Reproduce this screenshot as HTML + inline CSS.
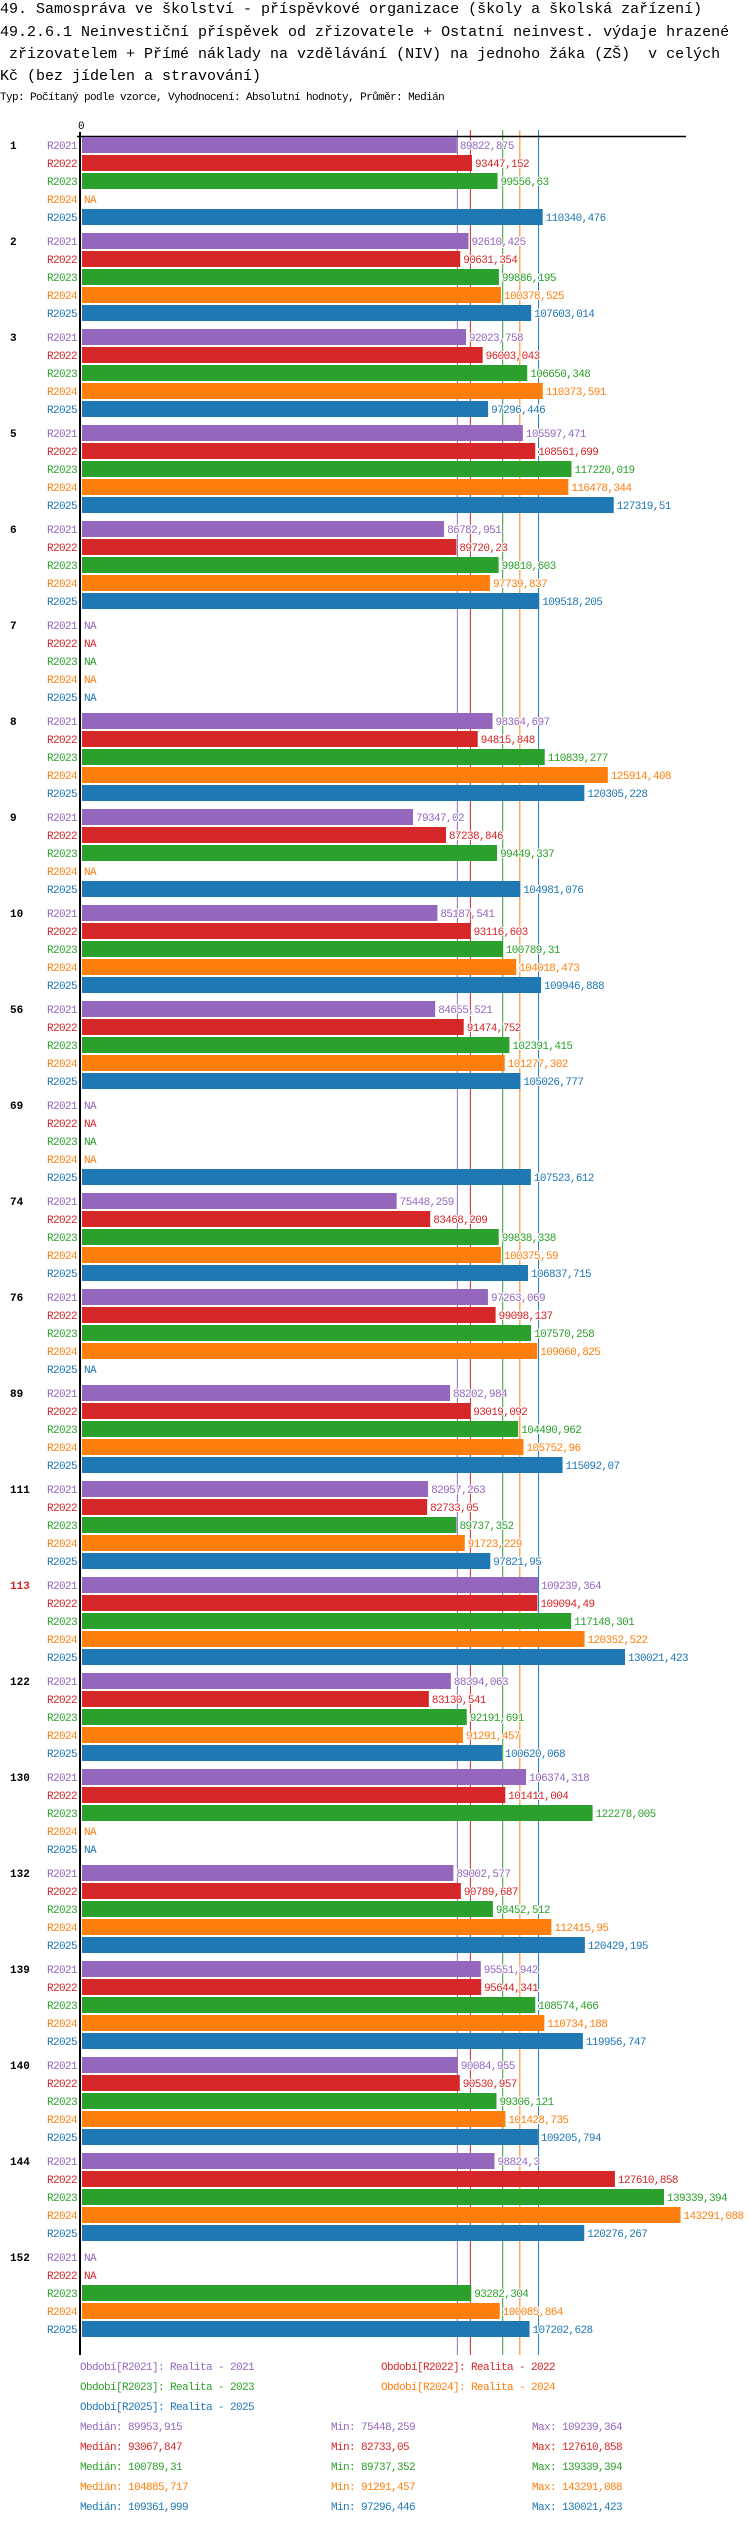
<!DOCTYPE html>
<html><head><meta charset="utf-8">
<style>
html,body{margin:0;padding:0;background:#fff;}
svg text{font-family:"Liberation Mono","DejaVu Sans Mono",monospace;}
</style></head>
<body>
<svg id="chart" width="750" height="2524" xmlns="http://www.w3.org/2000/svg">
<g font-size="15" fill="#000">
<text x="0" y="13">49. Samospráva ve školství - příspěvkové organizace (školy a školská zařízení)</text>
<text x="0" y="36">49.2.6.1 Neinvestiční příspěvek od zřizovatele + Ostatní neinvest. výdaje hrazené</text>
<text x="0" y="58" xml:space="preserve"> zřizovatelem + Přímé náklady na vzdělávání (NIV) na jednoho žáka (ZŠ)  v celých</text>
<text x="0" y="80">Kč (bez jídelen a stravování)</text>
</g>
<text x="0" y="100" font-size="11" letter-spacing="-0.6">Typ: Počítaný podle vzorce, Vyhodnocení: Absolutní hodnoty, Průměr: Medián</text>
<text x="78" y="129" font-size="11">0</text>
<g id="plot"></g>
<g id="legend"></g>
</svg>
<script>
const groups = ["1","2","3","5","6","7","8","9","10","56","69","74","76","89","111","113","122","130","132","139","140","144","152"];
const periods = ["R2021","R2022","R2023","R2024","R2025"];
const colors = ["#9467bd","#d62728","#2ca02c","#ff7f0e","#1f77b4"];
const v2021 = [89822.875,92610.425,92023.758,105597.471,86782.951,null,98364.697,79347.02,85187.541,84655.521,null,75448.259,97263.069,88202.984,82957.263,109239.364,88394.063,106374.318,89002.577,95551.942,90084.955,98824.3,null];
const v2022 = [93447.152,90631.354,96003.043,108561.699,89720.23,null,94815.848,87238.846,93116.603,91474.752,null,83468.209,99098.137,93019.092,82733.05,109094.49,83130.541,101411.004,90789.687,95644.341,90530.957,127610.858,null];
const v2023 = [99556.63,99886.195,106650.348,117220.019,99810.603,null,110839.277,99449.337,100789.31,102391.415,null,99838.338,107570.258,104490.962,89737.352,117148.301,92191.691,122278.005,98452.512,108574.466,99306.121,139339.394,93282.304];
const v2024 = [null,100378.525,110373.591,116478.344,97739.837,null,125914.408,null,104018.473,101277.302,null,100375.59,109060.825,105752.96,91723.229,120352.522,91291.457,null,112415.95,110734.188,101428.735,143291.088,100085.864];
const v2025 = [110340.476,107603.014,97296.446,127319.51,109518.205,null,120305.228,104981.076,109946.888,105026.777,107523.612,106837.715,null,115092.07,97821.95,130021.423,100620.068,null,120429.195,119956.747,109205.794,120276.267,107202.628];
const medians = [89953.915,93067.847,100789.31,104885.717,109361.999];
const mins = [75448.259,82733.05,89737.352,91291.457,97296.446];
const maxs = [109239.364,127610.858,139339.394,143291.088,130021.423];
const legendLabels = ["Období[R2021]: Realita - 2021","Období[R2022]: Realita - 2022","Období[R2023]: Realita - 2023","Období[R2024]: Realita - 2024","Období[R2025]: Realita - 2025"];
const highlightGroup = "113";

const series = [v2021,v2022,v2023,v2024,v2025];
const NS = "http://www.w3.org/2000/svg";
const X0 = 81, K = 0.004184;
const xScale = v => X0 + v * K;
const TOP = 137, GROUP_H = 96, ROW_H = 18, BAR_H = 16;
const yRow = (g, r) => TOP + g * GROUP_H + r * ROW_H;
const fmt = v => String(v).replace('.', ',');
const plot = document.getElementById('plot');
const bottom = yRow(groups.length - 1, 4) + BAR_H + 18;

function mk(tag, attrs, parent){
  const e = document.createElementNS(NS, tag);
  for (const k in attrs) e.setAttribute(k, attrs[k]);
  parent.appendChild(e);
  return e;
}

// median lines
medians.forEach((m, i) => {
  const l = mk('line', {x1: xScale(m), x2: xScale(m), y1: 130, y2: bottom, stroke: colors[i], 'stroke-width': 1}, plot);
  
  
});
// axes
const ax = mk('line', {x1: 77, x2: 686, y1: 136.5, y2: 136.5, stroke: '#000', 'stroke-width': 1.5}, plot);


const ay = mk('line', {x1: 80, x2: 80, y1: 132, y2: bottom, stroke: '#000', 'stroke-width': 2}, plot);



groups.forEach((g, gi) => {
  const gl = mk('text', {x: 10, y: yRow(gi, 0) + 12, 'font-size': 11, 'font-weight': 'bold', fill: g === highlightGroup ? '#d62728' : '#000'}, plot);
  gl.textContent = g;
  
  
  periods.forEach((p, pi) => {
    const y = yRow(gi, pi);
    const v = series[pi][gi];
    const lab = mk('text', {x: 77, y: y + 12, 'font-size': 11, 'letter-spacing': -0.6, 'text-anchor': 'end', fill: colors[pi]}, plot);
    lab.textContent = p;
    
    
    let tx;
    if (v === null) {
      tx = 84;
    } else {
      const r = mk('rect', {x: 82, y: y, width: xScale(v) - 82, height: BAR_H, fill: colors[pi]}, plot);
      
      
      tx = xScale(v) + 3;
    }
    const t = mk('text', {x: tx, y: y + 12, 'font-size': 11, 'letter-spacing': -0.6, fill: colors[pi], stroke: '#fff', 'stroke-width': 2, 'paint-order': 'stroke'}, plot);
    t.textContent = v === null ? 'NA' : fmt(v);
    
    
  });
});

const legend = document.getElementById('legend');
const legPos = [[80,2370],[381,2370],[80,2390],[381,2390],[80,2410]];
legendLabels.forEach((s, i) => {
  const t = mk('text', {x: legPos[i][0], y: legPos[i][1], 'font-size': 11, 'letter-spacing': -0.6, fill: colors[i]}, legend);
  t.textContent = s;
  
  
});
periods.forEach((p, i) => {
  const y = 2430 + i * 20;
  const a = mk('text', {x: 80, y: y, 'font-size': 11, 'letter-spacing': -0.6, fill: colors[i]}, legend);
  a.textContent = 'Medián: ' + fmt(medians[i]);
  
  
  const b = mk('text', {x: 331, y: y, 'font-size': 11, 'letter-spacing': -0.6, fill: colors[i]}, legend);
  b.textContent = 'Min: ' + fmt(mins[i]);
  
  
  const c = mk('text', {x: 532, y: y, 'font-size': 11, 'letter-spacing': -0.6, fill: colors[i]}, legend);
  c.textContent = 'Max: ' + fmt(maxs[i]);
  
  
});
</script>
</body></html>
